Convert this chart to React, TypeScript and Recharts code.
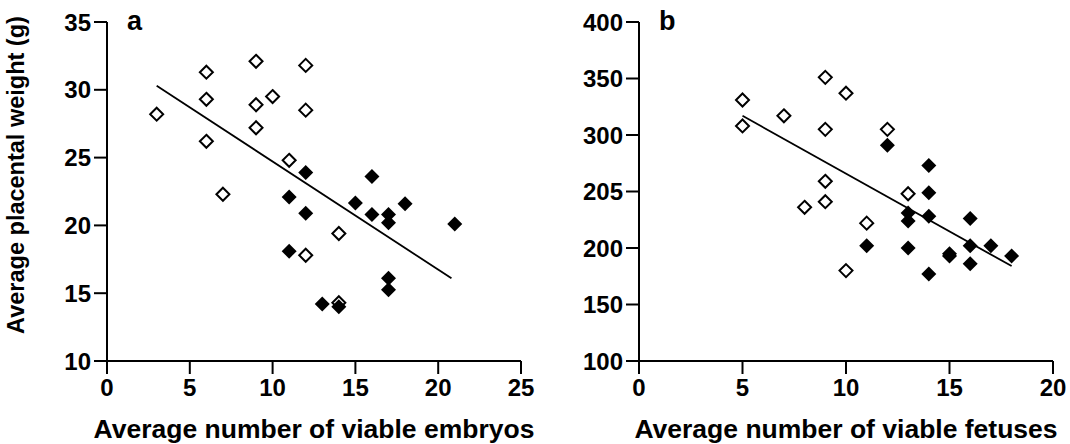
import React from 'react';
import { ScatterChart, Scatter, XAxis, YAxis, Label } from 'recharts';

// Panel a: placental weight vs viable embryos
const aOpenX = [3, 6, 6, 6, 7, 9, 9, 9, 10, 12, 12, 11, 14, 12, 14];
const aOpenY = [28.2, 31.3, 29.3, 26.2, 22.3, 32.1, 28.9, 27.2, 29.5, 31.8, 28.5, 24.8, 19.4, 17.8, 14.3];
const aFilledX = [12, 11, 12, 11, 13, 14, 15, 16, 16, 17, 17, 18, 17, 17, 21];
const aFilledY = [23.9, 22.1, 20.9, 18.1, 14.2, 14.0, 21.65, 23.6, 20.8, 20.8, 20.2, 21.6, 16.1, 15.25, 20.1];
const aFitX = [3, 20.8];
const aFitY = [30.3, 16.1];
const aXTicks = [0, 5, 10, 15, 20, 25];
const aYTicks = [10, 15, 20, 25, 30, 35];
const aYTickLabels = ['10', '15', '20', '25', '30', '35'];

// Panel b: placental weight vs viable fetuses
const bOpenX = [5, 5, 7, 9, 9, 9, 9, 8, 10, 10, 11, 12, 13];
const bOpenY = [331, 308, 317, 351, 305, 259, 241, 236, 337, 180, 222, 305, 248];
const bFilledX = [12, 14, 14, 14, 14, 13, 13, 13, 11, 16, 16, 16, 15, 15, 17, 18];
const bFilledY = [291, 273, 249, 228, 177, 231, 224, 200, 202, 226, 202, 186, 195, 193, 202, 193];
const bFitX = [5, 18];
const bFitY = [317, 184];
const bXTicks = [0, 5, 10, 15, 20];
const bYTicks = [100, 150, 200, 250, 300, 350, 400];
const bYTickLabels = ['100', '150', '200', '205', '300', '350', '400'];

const yTitle = 'Average placental weight (g)';
const aXTitle = 'Average number of viable embryos';
const bXTitle = 'Average number of viable fetuses';

const FONT = "Arial, 'Liberation Sans', sans-serif";

const zip = (xs: number[], ys: number[]) => xs.map((x, i) => ({ x, y: ys[i] }));

const OpenDiamond = (props: any) => {
  const { cx, cy } = props;
  const r = 6.5;
  return (
    <path
      d={`M${cx},${cy - r}L${cx + r},${cy}L${cx},${cy + r}L${cx - r},${cy}Z`}
      fill="#fff"
      stroke="#000"
      strokeWidth={2}
    />
  );
};

const FilledDiamond = (props: any) => {
  const { cx, cy } = props;
  const r = 7.5;
  return <path d={`M${cx},${cy - r}L${cx + r},${cy}L${cx},${cy + r}L${cx - r},${cy}Z`} fill="#000" stroke="none" />;
};

const NoShape = () => <g />;

const XTick = (props: any) => {
  const { x, y, payload } = props;
  return (
    <text x={x} y={y} dy={20} textAnchor="middle" fontSize={24} fontWeight="bold" fontFamily={FONT} fill="#000">
      {payload.value}
    </text>
  );
};

const YTickA = (props: any) => {
  const { x, y, payload, index } = props;
  return (
    <text x={x} y={y} dy={8.5} textAnchor="end" fontSize={24} fontWeight="bold" fontFamily={FONT} fill="#000">
      {aYTickLabels[index] ?? String(payload.value)}
    </text>
  );
};

const YTickB = (props: any) => {
  const { x, y, payload, index } = props;
  return (
    <text x={x} y={y} dy={8.5} textAnchor="end" fontSize={24} fontWeight="bold" fontFamily={FONT} fill="#000">
      {bYTickLabels[index] ?? String(payload.value)}
    </text>
  );
};

const letterStyle: React.CSSProperties = {
  position: 'absolute',
  fontFamily: FONT,
  fontWeight: 'bold',
  fontSize: 27,
  lineHeight: '27px',
  color: '#000',
};

export default function App() {
  return (
    <div style={{ position: 'absolute', left: 0, top: 0, width: 1070, height: 444, background: '#fff' }}>
      <div style={{ position: 'absolute', left: 0, top: 0 }}>
        <ScatterChart width={540} height={444} margin={{ top: 22, right: 19, left: 0, bottom: 0 }}>
          <XAxis
            type="number"
            dataKey="x"
            domain={[0, 25]}
            ticks={aXTicks}
            height={83}
            stroke="#000"
            axisLine={{ stroke: '#000', strokeWidth: 2 }}
            tickLine={{ stroke: '#000', strokeWidth: 2 }}
            tickSize={13}
            tick={<XTick />}
          >
            <Label
              value={aXTitle}
              position="insideBottom"
              offset={6}
              fontSize={26.5}
              fontWeight="bold"
              fontFamily={FONT}
              fill="#000"
            />
          </XAxis>
          <YAxis
            type="number"
            dataKey="y"
            domain={[10, 35]}
            ticks={aYTicks}
            width={107}
            stroke="#000"
            axisLine={{ stroke: '#000', strokeWidth: 2 }}
            tickLine={{ stroke: '#000', strokeWidth: 2 }}
            tickSize={13}
            tickMargin={3}
            tick={<YTickA />}
          />
          <Scatter
            data={zip(aFitX, aFitY)}
            line={{ stroke: '#000', strokeWidth: 1.8 }}
            shape={NoShape}
            isAnimationActive={false}
          />
          <Scatter data={zip(aOpenX, aOpenY)} shape={OpenDiamond} isAnimationActive={false} />
          <Scatter data={zip(aFilledX, aFilledY)} shape={FilledDiamond} isAnimationActive={false} />
        </ScatterChart>
      </div>
      <div style={{ position: 'absolute', left: 540, top: 0 }}>
        <ScatterChart width={530} height={444} margin={{ top: 22, right: 17, left: 0, bottom: 0 }}>
          <XAxis
            type="number"
            dataKey="x"
            domain={[0, 20]}
            ticks={bXTicks}
            height={83}
            stroke="#000"
            axisLine={{ stroke: '#000', strokeWidth: 2 }}
            tickLine={{ stroke: '#000', strokeWidth: 2 }}
            tickSize={13}
            tick={<XTick />}
          >
            <Label
              value={bXTitle}
              position="insideBottom"
              offset={6}
              fontSize={26.5}
              fontWeight="bold"
              fontFamily={FONT}
              fill="#000"
            />
          </XAxis>
          <YAxis
            type="number"
            dataKey="y"
            domain={[100, 400]}
            ticks={bYTicks}
            width={99}
            stroke="#000"
            axisLine={{ stroke: '#000', strokeWidth: 2 }}
            tickLine={{ stroke: '#000', strokeWidth: 2 }}
            tickSize={13}
            tickMargin={3}
            tick={<YTickB />}
          />
          <Scatter
            data={zip(bFitX, bFitY)}
            line={{ stroke: '#000', strokeWidth: 1.8 }}
            shape={NoShape}
            isAnimationActive={false}
          />
          <Scatter data={zip(bOpenX, bOpenY)} shape={OpenDiamond} isAnimationActive={false} />
          <Scatter data={zip(bFilledX, bFilledY)} shape={FilledDiamond} isAnimationActive={false} />
        </ScatterChart>
      </div>
      <div
        style={{
          position: 'absolute',
          left: 16,
          top: 175,
          width: 0,
          height: 0,
        }}
      >
        <div
          style={{
            position: 'absolute',
            left: 0,
            top: 0,
            transform: 'translate(-50%, -50%) rotate(-90deg)',
            whiteSpace: 'nowrap',
            fontFamily: FONT,
            fontWeight: 'bold',
            fontSize: 23.5,
            lineHeight: '28px',
            color: '#000',
          }}
        >
          {yTitle}
        </div>
      </div>
      <div style={{ ...letterStyle, left: 127, top: 8 }}>a</div>
      <div style={{ ...letterStyle, left: 659, top: 8 }}>b</div>
    </div>
  );
}
